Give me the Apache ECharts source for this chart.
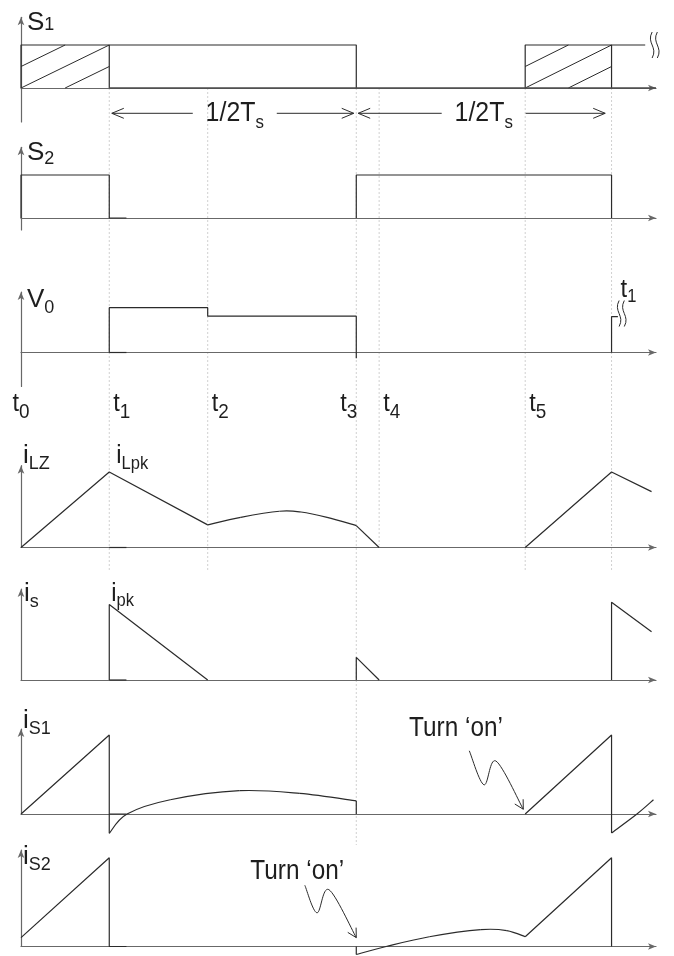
<!DOCTYPE html>
<html>
<head>
<meta charset="utf-8">
<script src="https://cdn.jsdelivr.net/npm/echarts@6/dist/echarts.min.js"></script>
<style>
  html, body { margin: 0; padding: 0; background: #ffffff; }
  #chart { width: 674px; height: 956px; }
</style>
</head>
<body>
<div id="chart"></div>
<script>
// ---- timing instants of one switching cycle (time axis runs 0..100) ----
const tickLabels = ['t0', 't1', 't2', 't3', 't4', 't5'];
const tickTimes  = [0, 13.9, 29.4, 52.8, 56.4, 79.4];
const guideTimes = [13.9, 29.4, 52.8, 56.4, 79.4, 93.0];
const halfPeriodSpans = [[14.3, 52.4], [53.1, 92.0]];   // the two 1/2Ts arrows

// ---- gate signals (1 = on) ----
const s1Trace = [
  [[0, 0], [0, 1], [52.8, 1], [52.8, 0]],
  [[13.9, 0], [13.9, 1]],
  [[79.4, 0], [79.4, 1], [98.3, 1]],
  [[93.0, 0], [93.0, 1]]
];
const s1Floor   = [[13.9, 0], [100, 0]];
const s1Hatched = [[0, 13.9], [79.4, 93.0]];
const s2Trace = [
  [[0, 0], [0, 1], [13.9, 1], [13.9, 0], [16.6, 0]],
  [[52.8, 0], [52.8, 1], [93.0, 1], [93.0, 0]]
];

// ---- output voltage ----
const v0Trace = [
  [[13.9, 0], [13.9, 1.0], [29.4, 1.0], [29.4, 0.81], [52.8, 0.81], [52.8, -0.13]],
  [[13.9, 0], [16.6, 0]],
  [[93.0, 0], [93.0, 0.8], [94.0, 0.8]]
];

// ---- inductor current iLZ ----
const ilzTrace = [
  [[0, 0], [13.9, 1.0], [29.4, 0.30]],
  [[52.8, 0.29], [56.4, 0]],
  [[79.4, 0], [93.0, 1.0], [99.3, 0.74]],
  [[13.9, 0], [16.6, 0]]
];
const ilzArc = [[29.4, 0.30], [34.6, 0.40], [40.7, 0.48], [44.1, 0.47], [48.2, 0.40], [52.8, 0.29]];

// ---- secondary current is ----
const isTrace = [
  [[13.9, 0], [13.9, 1.0], [29.4, 0]],
  [[52.8, 0], [52.8, 0.30], [56.4, 0]],
  [[93.0, 0], [93.0, 1.03], [99.3, 0.64]],
  [[13.9, 0], [16.6, 0]]
];

// ---- switch currents ----
const iS1Trace = [
  [[0, 0], [13.9, 1.0], [13.9, -0.245]],
  [[52.8, 0.165], [52.8, 0]],
  [[79.4, 0], [93.0, 1.0], [93.0, -0.24]],
  [[13.9, 0], [16.6, 0]]
];
const iS1Arcs = [
  [[13.9, -0.245], [16.7, 0], [23.5, 0.18], [34.4, 0.295], [43.9, 0.26], [52.8, 0.165]],
  [[93.0, -0.24], [97.0, 0], [99.6, 0.18]]
];
const iS2Trace = [
  [[0, 0.10], [13.9, 1.0], [13.9, 0], [16.6, 0]],
  [[52.8, 0], [52.8, -0.09]],
  [[79.4, 0.11], [93.0, 1.0], [93.0, 0]]
];
const iS2Arc = [[52.8, -0.09], [57.5, 0], [64.3, 0.11], [72.4, 0.19], [76.5, 0.18], [79.4, 0.11]];

// ---- "Turn 'on'" call-outs (text anchor + squiggle through points) ----
const turnOnText  = ['Turn \u2018on\u2019', 'Turn \u2018on\u2019'];
const turnOnAt    = [[68.5, 1.09], [43.5, 0.85]];
const turnOnPaths = [
  [[70.6, 0.80], [72.9, 0.37], [74.8, 0.67], [79.1, 0.06]],
  [[44.7, 0.69], [46.6, 0.38], [48.5, 0.64], [52.8, 0.10]]
];

// ---- panel names (main letter + subscript) ----
const panelNames = [['S', '1'], ['S', '2'], ['V', '0'], ['i', 'LZ'], ['i', 's'], ['i', 'S1'], ['i', 'S2']];

// ================= layout & style =================
const FONT = "'Liberation Sans',Arial,sans-serif";
const INK = '#2b2b2b';
const AXIS = '#686868';
const GUIDE = '#d0d0d0';
const PLOT_LEFT = 21, PLOT_WIDTH = 635;

// base: pixel row of zero, unit: px per unit, above/below: axis extent in px
const panelLayout = [
  { base: 88,    unit: 43,   above: 70.7, below: 34,  nameOff: 9.2,  nameLeft: 27, drop: 0 },
  { base: 218,   unit: 43,   above: 70.7, below: 12,  nameOff: 9,    nameLeft: 27, drop: 3 },
  { base: 352.5, unit: 44.8, above: 60.5, below: 34,  nameOff: 10,   nameLeft: 27, drop: 5 },
  { base: 547.5, unit: 75.5, above: 81.8, below: 0,   nameOff: -7.7, nameLeft: 23, drop: 5 },
  { base: 680,   unit: 75.5, above: 91,   below: 0,   nameOff: 7,    nameLeft: 24, drop: 5 },
  { base: 814,   unit: 79,   above: 85,   below: 0,   nameOff: -6,   nameLeft: 23, drop: 5 },
  { base: 946.5, unit: 88.7, above: 96.5, below: 0,   nameOff: 9,    nameLeft: 23, drop: 5 }
];
const guideTop = 88, guideBottom = 845;
const guideReachPx = [570, 570, 845, 545, 570, 570];

// rich text with a subscript; returns tokens and the offset from block middle to main glyph middle
function richSub(M, S, drop, graphic) {
  const c = graphic ? 'fill' : 'color';
  const p = Math.max(0, drop + 0.8465 * (M - S));
  const H = Math.max(M, p + S);
  return {
    rich: {
      m: { fontSize: M, lineHeight: M, fontFamily: FONT, verticalAlign: 'top', [c]: '#1e1e1e' },
      s: { fontSize: S, lineHeight: S, fontFamily: FONT, verticalAlign: 'top', padding: [p, 0, 0, 0], [c]: '#1e1e1e' }
    },
    shift: H / 2 - M / 2
  };
}

const grids = [], xAxes = [], yAxes = [], series = [];
const hidden = { show: false };

panelLayout.forEach((p, i) => {
  grids.push({ left: PLOT_LEFT, width: PLOT_WIDTH, top: p.base - p.above, height: p.above + p.below });
  xAxes.push({
    gridIndex: i, type: 'value', min: 0, max: 100,
    axisLine: { show: true, onZero: true, symbol: ['none', 'arrow'], symbolSize: [5, 8],
                lineStyle: { color: AXIS, width: 1.2 } },
    axisTick: hidden, axisLabel: hidden, splitLine: hidden
  });
  const nm = richSub(26, 18, p.drop, false);
  yAxes.push({
    gridIndex: i, type: 'value', min: -p.below / p.unit, max: p.above / p.unit,
    axisLine: { show: true, onZero: false, symbol: ['none', 'arrow'], symbolSize: [5, 8],
                lineStyle: { color: AXIS, width: 1.2 } },
    axisTick: hidden, axisLabel: hidden, splitLine: hidden,
    name: '{m|' + panelNames[i][0] + '}{s|' + panelNames[i][1] + '}',
    nameLocation: 'end',
    nameGap: 4 - p.nameOff - nm.shift,
    nameTextStyle: { rich: nm.rich, align: 'left', verticalAlign: 'middle',
                     padding: [0, 0, 0, p.nameLeft - PLOT_LEFT] }
  });
});

// overlay grid for the dotted time guides
const GI = panelLayout.length;
grids.push({ left: PLOT_LEFT, width: PLOT_WIDTH, top: guideTop, height: guideBottom - guideTop });
xAxes.push({ gridIndex: GI, type: 'value', min: 0, max: 100, show: false });
yAxes.push({ gridIndex: GI, type: 'value', min: 0, max: 1, inverse: true, show: false });

function trace(g, pts, opt) {
  opt = opt || {};
  series.push({
    type: 'line', xAxisIndex: g, yAxisIndex: g, data: pts, symbol: 'none', showSymbol: false,
    clip: false, silent: true, animation: false, z: 3,
    lineStyle: { color: opt.color || INK, width: opt.width || 1.2 }
  });
}
function segLine(a, b, stroke, w, dash) {
  return { type: 'line', shape: { x1: a[0], y1: a[1], x2: b[0], y2: b[1] },
           style: { stroke: stroke, lineWidth: w, lineDash: dash || null, fill: null } };
}
// Catmull-Rom spline through pixel points, as cubic Bezier pieces
function smoothThrough(pts, stroke, w) {
  const out = [];
  for (let i = 0; i < pts.length - 1; i++) {
    const p0 = pts[i - 1] || pts[i], p1 = pts[i], p2 = pts[i + 1], p3 = pts[i + 2] || pts[i + 1];
    out.push({ type: 'bezierCurve', shape: {
      x1: p1[0], y1: p1[1], x2: p2[0], y2: p2[1],
      cpx1: p1[0] + (p2[0] - p0[0]) / 6, cpy1: p1[1] + (p2[1] - p0[1]) / 6,
      cpx2: p2[0] - (p3[0] - p1[0]) / 6, cpy2: p2[1] - (p3[1] - p1[1]) / 6 },
      style: { stroke: stroke, lineWidth: w, fill: null } });
  }
  return out;
}
// smooth waveform piece drawn through the panel's scales
function arc(g, pts) {
  series.push({
    type: 'custom', xAxisIndex: g, yAxisIndex: g, silent: true, z: 3, data: pts,
    renderItem(params, api) {
      if (params.dataIndex !== 0) return null;
      return { type: 'group', children: smoothThrough(pts.map(p => api.coord(p)), INK, 1.2) };
    }
  });
}

// guides
series.push({
  type: 'custom', xAxisIndex: GI, yAxisIndex: GI, silent: true, z: 0,
  data: guideTimes.map(t => [t, 0]),
  renderItem(params, api) {
    const t = api.value(0);
    const reach = (guideReachPx[params.dataIndex] - guideTop) / (guideBottom - guideTop);
    return segLine(api.coord([t, 0]), api.coord([t, reach]), GUIDE, 1, [2, 2]);
  }
});

// S1
s1Trace.forEach(p => trace(0, p));
trace(0, s1Floor, { width: 1.6, color: '#4a4a4a' });
series.push({
  type: 'custom', xAxisIndex: 0, yAxisIndex: 0, silent: true, z: 3, data: s1Hatched,
  renderItem(params, api) {
    const a = api.value(0), b = api.value(1), m = (a + b) / 2;
    const segs = [[[a, 0.5], [m, 1]], [[a, 0], [b, 1]], [[m, 0], [b, 0.5]]];
    return { type: 'group', children: segs.map(s => segLine(api.coord(s[0]), api.coord(s[1]), INK, 1)) };
  }
});
// 1/2Ts arrows below S1
series.push({
  type: 'custom', xAxisIndex: 0, yAxisIndex: 0, silent: true, z: 4, data: halfPeriodSpans,
  renderItem(params, api) {
    const a = api.coord([api.value(0), 0]), b = api.coord([api.value(1), 0]);
    const y = a[1] + 25.3, cx = (a[0] + b[0]) / 2;
    const lab = richSub(28, 19, 6.6, true);
    return { type: 'group', children: [
      segLine([a[0], y], [cx - 40, y], INK, 1),
      segLine([cx + 44, y], [b[0], y], INK, 1),
      { type: 'polyline', shape: { points: [[a[0] + 12, y - 5], [a[0], y], [a[0] + 12, y + 5]] },
        style: { stroke: INK, lineWidth: 1, fill: null } },
      { type: 'polyline', shape: { points: [[b[0] - 12, y - 5], [b[0], y], [b[0] - 12, y + 5]] },
        style: { stroke: INK, lineWidth: 1, fill: null } },
      { type: 'text', x: cx + 2, y: y - 2.5 + lab.shift, scaleX: 0.89,
        style: { text: '{m|1/2T}{s|s}', rich: lab.rich, align: 'center', verticalAlign: 'middle' } }
    ] };
  }
});

// break marks on S1 and V0
function breakMark(g, at) {
  series.push({
    type: 'custom', xAxisIndex: g, yAxisIndex: g, silent: true, z: 4, data: [at],
    renderItem(params, api) {
      const c = api.coord([api.value(0), api.value(1)]);
      const h = 13, kids = [];
      [-2.6, 2.6].forEach(dx => {
        const x = c[0] + dx;
        kids.push({ type: 'bezierCurve', shape: { x1: x, y1: c[1] - h, x2: x, y2: c[1] + h,
          cpx1: x - 6, cpy1: c[1] - h * 0.15, cpx2: x + 6, cpy2: c[1] + h * 0.15 },
          style: { stroke: INK, lineWidth: 1, fill: null } });
      });
      return { type: 'group', children: kids };
    }
  });
}
breakMark(0, [99.8, 1.0]);

// S2
s2Trace.forEach(p => trace(1, p));

// V0
v0Trace.forEach(p => trace(2, p));
breakMark(2, [94.6, 0.87]);

// time labels t0..t5 under V0
series.push({
  type: 'custom', xAxisIndex: 2, yAxisIndex: 2, silent: true, z: 4,
  data: tickTimes.map(t => [t, 0]),
  renderItem(params, api) {
    const i = params.dataIndex;
    const c = api.coord([api.value(0), 0]);
    const lab = richSub(26, 21, 6.7, true);
    const align = i === 0 ? 'center' : (i === 3 ? 'right' : 'left');
    const dx = i === 0 ? 0 : (i === 3 ? 1 : 4);
    const name = tickLabels[i];
    return { type: 'text', x: c[0] + dx, y: c[1] + 48.5 + lab.shift, scaleX: 0.9,
      style: { text: '{m|' + name[0] + '}{s|' + name.slice(1) + '}', rich: lab.rich, align: align, verticalAlign: 'middle' } };
  }
});

// iLZ
ilzTrace.forEach(p => trace(3, p));
arc(3, ilzArc);

// is
isTrace.forEach(p => trace(4, p));

// iS1
iS1Trace.forEach(p => trace(5, p));
iS1Arcs.forEach(p => arc(5, p));

// iS2
iS2Trace.forEach(p => trace(6, p));
arc(6, iS2Arc);

// value tags beside peaks
const tags = [
  { g: 3, at: ilzTrace[0][1], main: 'i', sub: 'Lpk', dx: 7, dy: -18 },
  { g: 4, at: isTrace[0][1],  main: 'i', sub: 'pk',  dx: 2, dy: -13 },
  { g: 2, at: v0Trace[2][1],  main: 't', sub: '1',   dx: 9, dy: -29 }
];
tags.forEach(tg => {
  series.push({
    type: 'custom', xAxisIndex: tg.g, yAxisIndex: tg.g, silent: true, z: 4, data: [tg.at],
    renderItem(params, api) {
      const c = api.coord([api.value(0), api.value(1)]);
      const lab = richSub(26, 18, 5, true);
      return { type: 'text', x: c[0] + tg.dx, y: c[1] + tg.dy + lab.shift, scaleX: 0.92,
        style: { text: '{m|' + tg.main + '}{s|' + tg.sub + '}', rich: lab.rich, align: 'left', verticalAlign: 'middle' } };
    }
  });
});

// Turn 'on' call-outs on iS1 and iS2
[5, 6].forEach((g, k) => {
  series.push({
    type: 'custom', xAxisIndex: g, yAxisIndex: g, silent: true, z: 4, data: turnOnPaths[k],
    renderItem(params, api) {
      if (params.dataIndex !== 0) return null;
      const pts = turnOnPaths[k].map(p => api.coord(p));
      const kids = smoothThrough(pts, INK, 1);
      const tip = pts[pts.length - 1], prev = pts[pts.length - 2];
      const ang = Math.atan2(prev[1] - tip[1], prev[0] - tip[0]);
      [-0.5, 0.5].forEach(da => {
        kids.push(segLine(tip, [tip[0] + 10 * Math.cos(ang + da), tip[1] + 10 * Math.sin(ang + da)], INK, 1));
      });
      const tc = api.coord(turnOnAt[k]);
      kids.push({ type: 'text', x: tc[0], y: tc[1], scaleX: 0.87,
        style: { text: turnOnText[k], fontSize: 28, fontFamily: FONT, fill: '#1e1e1e', align: 'center', verticalAlign: 'middle' } });
      return { type: 'group', children: kids };
    }
  });
});

const chart = echarts.init(document.getElementById('chart'), null, { renderer: 'canvas' });
chart.setOption({
  animation: false,
  backgroundColor: '#ffffff',
  textStyle: { fontFamily: FONT },
  grid: grids, xAxis: xAxes, yAxis: yAxes, series: series
});
</script>
</body>
</html>
